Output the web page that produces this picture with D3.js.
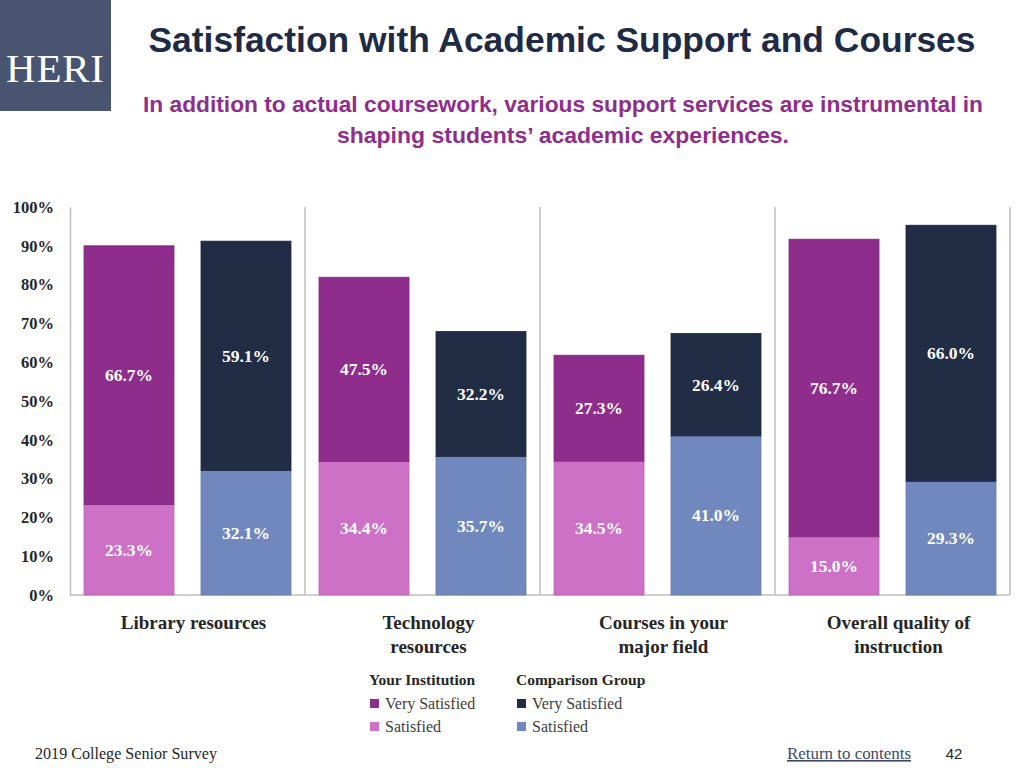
<!DOCTYPE html>
<html><head><meta charset="utf-8">
<script src="https://cdn.jsdelivr.net/npm/d3@7"></script>
<style>body{margin:0;background:#fff;} svg{display:block;}</style>
</head><body>
<svg id="c" width="1024" height="768"></svg>
<script>
const categories = ["Library resources", "Technology resources", "Courses in your major field", "Overall quality of instruction"];
const categoryLines = [["Library resources"], ["Technology", "resources"], ["Courses in your", "major field"], ["Overall quality of", "instruction"]];
const groups = ["Your Institution", "Comparison Group"];
const instSatisfied = [23.3, 34.4, 34.5, 15.0];
const instVery = [66.7, 47.5, 27.3, 76.7];
const compSatisfied = [32.1, 35.7, 41.0, 29.3];
const compVery = [59.1, 32.2, 26.4, 66.0];
const yTicks = [0, 10, 20, 30, 40, 50, 60, 70, 80, 90, 100];
const colors = {instVery: "#8f2d8c", instSat: "#cc71c6", compVery: "#212c45", compSat: "#7088bd"};

const svg = d3.select("#c");
const serif = "'Liberation Serif', 'DejaVu Serif', serif";
const sans = "'Liberation Sans', Arial, sans-serif";

// Logo
svg.append("rect").attr("x", 0).attr("y", 0).attr("width", 111).attr("height", 111).attr("fill", "#485470");
svg.append("text").attr("x", 55).attr("y", 82).attr("text-anchor", "middle").attr("fill", "#fff")
  .attr("font-family", serif).attr("font-size", 41).attr("textLength", 98).text("HERI");

// Titles
svg.append("text").attr("x", 562).attr("y", 52).attr("text-anchor", "middle").attr("fill", "#1f2a44")
  .attr("font-family", sans).attr("font-weight", "bold").attr("font-size", 35)
  .attr("textLength", 827).attr("lengthAdjust", "spacingAndGlyphs").text("Satisfaction with Academic Support and Courses");
const sub = ["In addition to actual coursework, various support services are instrumental in", "shaping students\u2019 academic experiences."];
const subLen = [840, 452];
sub.forEach((s, i) => svg.append("text").attr("x", 563).attr("y", 112 + i * 31).attr("text-anchor", "middle").attr("fill", "#8f2d8c")
  .attr("font-family", sans).attr("font-weight", "bold").attr("font-size", 22.5)
  .attr("textLength", subLen[i]).attr("lengthAdjust", "spacingAndGlyphs").text(s));

// Scales
const pLeft = 70, pRight = 1010, pTop = 207, pBottom = 595;
const x = d3.scaleBand().domain(categories).range([pLeft, pRight]).paddingInner(0).paddingOuter(0);
const xs = d3.scaleBand().domain(groups).range([0, x.bandwidth()]).paddingInner(0.2308).paddingOuter(0.1197);
const y = d3.scaleLinear().domain([0, 100]).range([pBottom, pTop]);

// Axis
const yAxis = d3.axisLeft(y).tickValues(yTicks).tickFormat(d => d + "%").tickSize(0).tickPadding(16);
const ga = svg.append("g").attr("transform", `translate(${pLeft},0)`).call(yAxis);
ga.select(".domain").attr("stroke", "#bfbfbf").attr("stroke-width", 1.5);
ga.selectAll("text").attr("font-family", serif).attr("font-weight", "bold").attr("font-size", 16.5).attr("fill", "#262626");

// separators
svg.append("g").selectAll("line").data(categories).join("line")
  .attr("x1", d => x(d) + x.bandwidth()).attr("x2", d => x(d) + x.bandwidth())
  .attr("y1", pTop).attr("y2", pBottom).attr("stroke", "#bfbfbf").attr("stroke-width", 1.5);
svg.append("line").attr("x1", pLeft).attr("x2", pRight).attr("y1", pBottom).attr("y2", pBottom).attr("stroke", "#bfbfbf").attr("stroke-width", 1.5);

// Segments
const segs = [];
categories.forEach((c, i) => {
  segs.push({c, g: groups[0], y0: 0, y1: instSatisfied[i], v: instSatisfied[i], fill: colors.instSat});
  segs.push({c, g: groups[0], y0: instSatisfied[i], y1: instSatisfied[i] + instVery[i], v: instVery[i], fill: colors.instVery});
  segs.push({c, g: groups[1], y0: 0, y1: compSatisfied[i], v: compSatisfied[i], fill: colors.compSat});
  segs.push({c, g: groups[1], y0: compSatisfied[i], y1: compSatisfied[i] + compVery[i], v: compVery[i], fill: colors.compVery});
});
const gb = svg.append("g");
gb.selectAll("rect").data(segs).join("rect")
  .attr("x", d => x(d.c) + xs(d.g)).attr("width", xs.bandwidth())
  .attr("y", d => y(d.y1)).attr("height", d => y(d.y0) - y(d.y1))
  .attr("fill", d => d.fill).attr("stroke", d => d3.color(d.fill).darker(0.3)).attr("stroke-width", 0.8);
gb.selectAll("text").data(segs).join("text")
  .attr("x", d => x(d.c) + xs(d.g) + xs.bandwidth() / 2)
  .attr("y", d => y((d.y0 + d.y1) / 2) + 6)
  .attr("text-anchor", "middle").attr("fill", "#fff")
  .attr("font-family", serif).attr("font-weight", "bold").attr("font-size", 17.5)
  .text(d => d.v.toFixed(1) + "%");

// Category labels
categories.forEach((c, i) => {
  categoryLines[i].forEach((l, j) => svg.append("text")
    .attr("x", x(c) + x.bandwidth() / 2 + 6).attr("y", 629 + j * 24).attr("text-anchor", "middle")
    .attr("font-family", serif).attr("font-weight", "bold").attr("font-size", 19).attr("fill", "#262626").text(l));
});

// Legend
const legend = [
  {title: groups[0], items: [["Very Satisfied", colors.instVery], ["Satisfied", colors.instSat]], x: 369},
  {title: groups[1], items: [["Very Satisfied", colors.compVery], ["Satisfied", colors.compSat]], x: 516}
];
legend.forEach(L => {
  svg.append("text").attr("x", L.x).attr("y", 685).attr("font-family", serif).attr("font-weight", "bold")
    .attr("font-size", 15.5).attr("fill", "#262626").text(L.title);
  L.items.forEach((it, j) => {
    svg.append("rect").attr("x", L.x + 1).attr("y", 699 + j * 23).attr("width", 9).attr("height", 9).attr("fill", it[1]);
    svg.append("text").attr("x", L.x + 16).attr("y", 709 + j * 23).attr("font-family", serif)
      .attr("font-size", 16).attr("fill", "#404040").text(it[0]);
  });
});

// Footer
svg.append("text").attr("x", 35).attr("y", 759).attr("font-family", serif).attr("font-size", 16)
  .attr("textLength", 182).attr("lengthAdjust", "spacingAndGlyphs").attr("fill", "#262626").text("2019 College Senior Survey");
svg.append("text").attr("x", 787).attr("y", 759).attr("font-family", serif).attr("font-size", 16).attr("fill", "#404a6a")
  .attr("textLength", 124).attr("lengthAdjust", "spacingAndGlyphs")
  .attr("text-decoration", "underline").text("Return to contents");
svg.append("text").attr("x", 954).attr("y", 759).attr("text-anchor", "middle").attr("font-family", sans).attr("font-size", 15).attr("fill", "#262626").text("42");
</script>
</body></html>
